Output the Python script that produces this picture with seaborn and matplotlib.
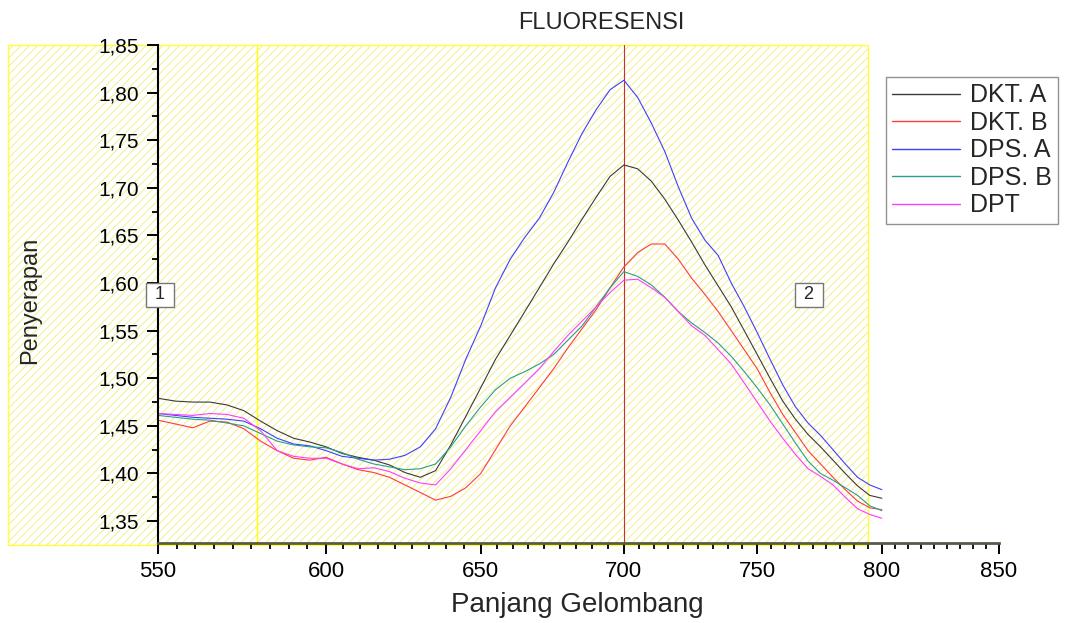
import numpy as np
import matplotlib
matplotlib.use("Agg")
import matplotlib.pyplot as plt
import matplotlib.ticker as mticker
from matplotlib.patches import Rectangle
from matplotlib.lines import Line2D
import pandas as pd
import seaborn as sns

# wavelength grid (nm)
wavelength = list(range(550, 801, 5))

dkt_a = [1.479, 1.476, 1.475, 1.475, 1.472, 1.466, 1.455, 1.445, 1.437, 1.433,
         1.428, 1.421, 1.417, 1.414, 1.409, 1.401, 1.396, 1.403, 1.430, 1.460,
         1.490, 1.520, 1.545, 1.570, 1.595, 1.620, 1.643, 1.667, 1.690, 1.712,
         1.724, 1.720, 1.707, 1.688, 1.666, 1.643, 1.619, 1.597, 1.575, 1.550,
         1.525, 1.500, 1.476, 1.457, 1.441, 1.428, 1.414, 1.400, 1.387, 1.377,
         1.374]
dkt_b = [1.456, 1.452, 1.448, 1.455, 1.454, 1.447, 1.434, 1.424, 1.416, 1.414,
         1.417, 1.410, 1.404, 1.401, 1.396, 1.388, 1.380, 1.372, 1.376, 1.385,
         1.400, 1.425, 1.450, 1.470, 1.490, 1.510, 1.532, 1.552, 1.572, 1.595,
         1.617, 1.632, 1.641, 1.641, 1.625, 1.605, 1.588, 1.570, 1.550, 1.530,
         1.510, 1.485, 1.462, 1.443, 1.424, 1.410, 1.396, 1.383, 1.371, 1.364,
         1.362]
dps_a = [1.463, 1.461, 1.459, 1.458, 1.457, 1.455, 1.447, 1.437, 1.431, 1.429,
         1.424, 1.418, 1.416, 1.414, 1.415, 1.419, 1.428, 1.447, 1.480, 1.520,
         1.555, 1.595, 1.625, 1.648, 1.668, 1.695, 1.727, 1.757, 1.782, 1.803,
         1.813, 1.795, 1.768, 1.738, 1.701, 1.668, 1.645, 1.629, 1.600, 1.575,
         1.548, 1.520, 1.493, 1.470, 1.453, 1.440, 1.425, 1.410, 1.396, 1.388,
         1.383]
dps_b = [1.461, 1.459, 1.457, 1.456, 1.453, 1.450, 1.442, 1.434, 1.430, 1.428,
         1.427, 1.422, 1.415, 1.410, 1.407, 1.404, 1.405, 1.410, 1.428, 1.450,
         1.470, 1.488, 1.500, 1.507, 1.515, 1.525, 1.540, 1.555, 1.575, 1.595,
         1.612, 1.607, 1.598, 1.585, 1.570, 1.558, 1.548, 1.537, 1.523, 1.507,
         1.490, 1.472, 1.452, 1.432, 1.413, 1.400, 1.393, 1.385, 1.377, 1.366,
         1.361]
dpt = [1.463, 1.462, 1.461, 1.463, 1.462, 1.458, 1.445, 1.424, 1.418, 1.416,
       1.416, 1.410, 1.405, 1.406, 1.402, 1.395, 1.390, 1.388, 1.405, 1.425,
       1.445, 1.465, 1.480, 1.495, 1.510, 1.528, 1.545, 1.560, 1.575, 1.590,
       1.603, 1.604, 1.595, 1.585, 1.570, 1.555, 1.545, 1.530, 1.515, 1.495,
       1.475, 1.455, 1.437, 1.420, 1.405, 1.397, 1.388, 1.375, 1.363, 1.357,
       1.353]

series_names = ['DKT. A', 'DKT. B', 'DPS. A', 'DPS. B', 'DPT']
series_values = [dkt_a, dkt_b, dps_a, dps_b, dpt]
series_colors = ['#3a3a3a', '#ff3b3b', '#3f3fff', '#2a9d8f', '#ff3cff']

x_ticks = [550, 600, 650, 700, 750, 800, 850]
y_ticks = [1.35, 1.40, 1.45, 1.50, 1.55, 1.60, 1.65, 1.70, 1.75, 1.80, 1.85]

# long-form table for seaborn
df = pd.concat([pd.DataFrame({'wl': wavelength, 'val': v, 'sample': n})
                for n, v in zip(series_names, series_values)], ignore_index=True)

sns.set_style('ticks')
plt.rcParams['font.family'] = ['Liberation Sans', 'DejaVu Sans']
plt.rcParams['hatch.linewidth'] = 0.6

fig = plt.figure(figsize=(10.68, 6.23), dpi=100)
ax = fig.add_axes([0.1479, 0.1284, 0.7875, 0.7994])
ax.set_facecolor('none')

# hatched yellow data-range region behind the plot
fig.patches.append(Rectangle((0.0075, 0.1252), 0.8052, 0.8026, transform=fig.transFigure,
                             facecolor='none', edgecolor='#f2ec78', hatch='////', lw=0,
                             zorder=-2))
fig.patches.append(Rectangle((0.0075, 0.1252), 0.8052, 0.8026, transform=fig.transFigure,
                             facecolor='none', edgecolor='#ffff33', lw=1.0, zorder=-1))

sns.lineplot(data=df, x='wl', y='val', hue='sample', palette=series_colors,
             estimator=None, lw=0.8, legend=False, ax=ax)

ax.axvline(579, color='#ffff00', lw=1.0, zorder=1)
ax.axvline(700, color='#c83030', lw=0.8, zorder=1)

ax.set_xscale('log')
ax.set_xlim(550, 850)
ax.set_ylim(1.327, 1.85)
ax.xaxis.set_major_locator(mticker.FixedLocator(x_ticks))
ax.xaxis.set_major_formatter(mticker.FixedFormatter([str(t) for t in x_ticks]))
minor_x = [a * (b / a) ** (k / 9) for a, b in zip(x_ticks[:-1], x_ticks[1:]) for k in range(1, 9)]
ax.xaxis.set_minor_locator(mticker.FixedLocator(minor_x))
ax.xaxis.set_minor_formatter(mticker.NullFormatter())
ax.yaxis.set_major_locator(mticker.FixedLocator(y_ticks))
ax.yaxis.set_major_formatter(mticker.FuncFormatter(lambda v, p: f"{v:.2f}".replace('.', ',')))
ax.yaxis.set_minor_locator(mticker.MultipleLocator(0.025))
ax.set_xlabel('')
ax.set_ylabel('')

for s in ['top', 'right']:
    ax.spines[s].set_visible(False)
ax.spines['left'].set_color('black')
ax.spines['left'].set_linewidth(1.5)
ax.spines['bottom'].set_color('#5a5a4a')
ax.spines['bottom'].set_linewidth(2.0)
ax.tick_params(axis='both', which='major', direction='out', length=8, width=1.4,
               color='black', labelcolor='black')
ax.tick_params(axis='both', which='minor', direction='out', length=4, width=1.3, color='black')
ax.tick_params(axis='x', which='major', labelsize=16, pad=5)
ax.tick_params(axis='y', which='major', labelsize=15, pad=6)

fig.text(0.563, 0.963, 'FLUORESENSI', ha='center', va='center', fontsize=17)
fig.text(0.028, 0.518, 'Penyerapan', ha='center', va='center', rotation=90, fontsize=17)
fig.text(0.541, 0.029, 'Panjang Gelombang', ha='center', va='center', fontsize=20)

# range markers
box = dict(boxstyle='square,pad=0.2', facecolor='white', edgecolor='#777777', lw=1)
fig.text(160 / 1068, 1 - 295 / 623, ' 1 ', ha='center', va='center', fontsize=13, bbox=box)
fig.text(809 / 1068, 1 - 295 / 623, ' 2 ', ha='center', va='center', fontsize=13, bbox=box)

handles = [Line2D([], [], color=c, lw=1.0) for c in series_colors]
leg = ax.legend(handles, series_names, loc='upper left',
                bbox_to_anchor=(886 / 1068, 1 - 77 / 623), bbox_transform=fig.transFigure,
                fontsize=18, frameon=True, fancybox=False, handlelength=2.7,
                handletextpad=0.4, labelspacing=0.14, borderpad=0.25, borderaxespad=0)
leg.get_frame().set_edgecolor('#777777')
leg.get_frame().set_linewidth(1.0)

fig.savefig('out.png', dpi=100)
